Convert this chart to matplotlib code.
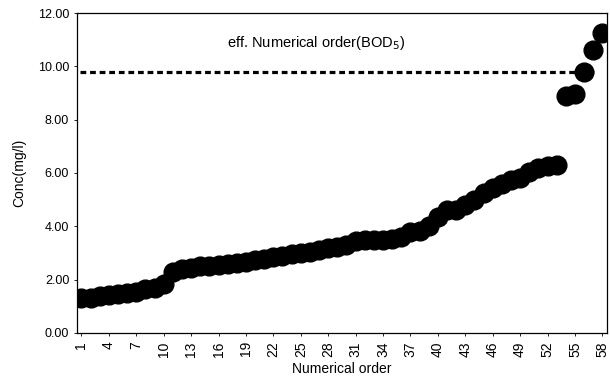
import matplotlib
matplotlib.use("Agg")
import matplotlib.pyplot as plt
import numpy as np

plt.rcParams['font.family'] = ['Liberation Sans', 'DejaVu Sans']

order = list(range(1, 59))
conc = [1.30, 1.32, 1.38, 1.42, 1.47, 1.50, 1.55, 1.65, 1.70, 1.85,
        2.28, 2.38, 2.45, 2.50, 2.52, 2.55, 2.60, 2.63, 2.65, 2.72,
        2.78, 2.85, 2.90, 2.95, 3.00, 3.05, 3.12, 3.18, 3.22, 3.30,
        3.45, 3.50, 3.48, 3.50, 3.52, 3.58, 3.78, 3.82, 4.00, 4.35,
        4.60, 4.62, 4.80, 5.00, 5.25, 5.45, 5.60, 5.72, 5.80, 6.05,
        6.20, 6.25, 6.30, 8.90, 8.95, 9.80, 10.60, 11.25]
limit = 9.80
xtick_vals = list(range(1, 59, 3))
ytick_vals = [0, 2, 4, 6, 8, 10, 12]

fig = plt.figure(figsize=(6.10, 3.83), dpi=100)
ax = fig.add_axes([0.126, 0.131, 0.869, 0.835])

ax.hlines(limit, 0.8, 57.2, colors='black', linestyles=(0, (1.8, 1.2)), linewidth=2.3, zorder=1)
ax.plot(order, conc, 'o', color='black', markersize=13.5, zorder=2)

ax.set_xlim(0.5, 58.5)
ax.set_ylim(0, 12)
ax.set_xticks(xtick_vals)
ax.set_xticklabels([str(v) for v in xtick_vals], rotation=90, fontsize=10)
ax.set_yticks(ytick_vals)
ax.set_yticklabels(['%.2f' % v for v in ytick_vals], fontsize=9)
ax.tick_params(axis='both', length=2, width=0.6)
ax.tick_params(axis='x', pad=4)
for s in ax.spines.values():
    s.set_linewidth(0.9)

ax.set_xlabel('Numerical order', fontsize=10, labelpad=4)
ax.set_ylabel('Conc(mg/l)', fontsize=10, labelpad=8)
ax.text(0.451, 0.905, 'eff. Numerical order(BOD$_5$)', transform=ax.transAxes,
        ha='center', va='center', fontsize=10.5)

fig.savefig('out.png', dpi=100)
